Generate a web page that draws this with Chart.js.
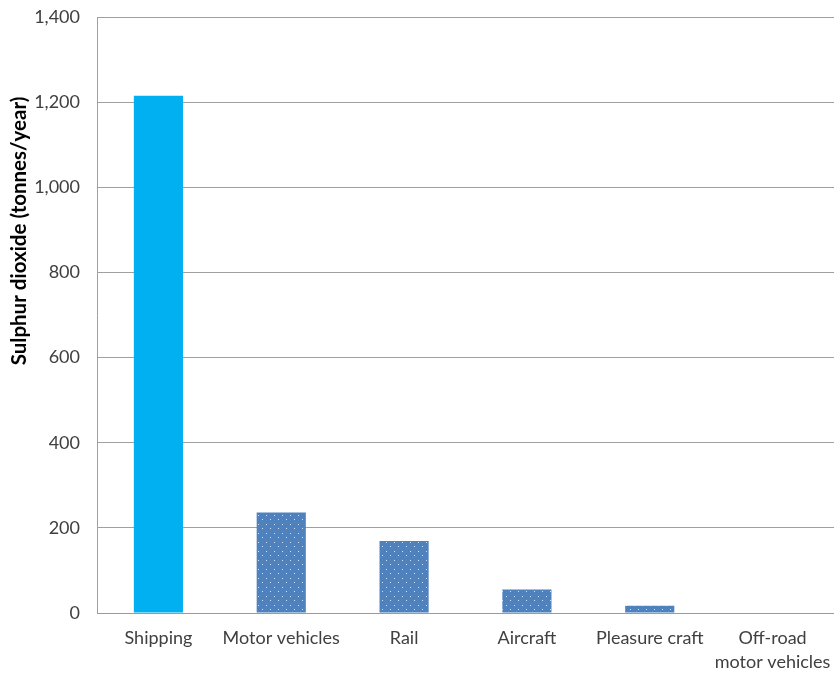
<!DOCTYPE html>
<html><head><meta charset="utf-8">
<script src="https://cdn.jsdelivr.net/npm/chart.js@4.4.0/dist/chart.umd.min.js"></script>
<style>html,body{margin:0;padding:0;background:#fff}#wrap{width:834px;height:675px;position:relative}</style>
</head><body><div id="wrap"><canvas id="c"></canvas></div>
<script>
const categories = ["Shipping", "Motor vehicles", "Rail", "Aircraft", "Pleasure craft", ["Off-road", "motor vehicles"]];
const values = [1215, 236, 169, 55, 17, 0];
const yTicks = [0, 200, 400, 600, 800, 1000, 1200, 1400];
const yTitle = "Sulphur dioxide (tonnes/year)";

function dotPattern() {
  const t = document.createElement('canvas');
  t.width = 8; t.height = 9;
  const g = t.getContext('2d');
  g.fillStyle = '#4F81BD'; g.fillRect(0, 0, 8, 9);
  g.fillStyle = 'rgba(220,235,255,0.9)';
  g.fillRect(2, 2, 1, 1);
  g.fillRect(6, 6, 1, 1);
  return document.getElementById('c').getContext('2d').createPattern(t, 'repeat');
}
const pat = dotPattern();
const colors = values.map((v, i) => i === 0 ? '#00B0F0' : pat);

const FONT = "Lato, 'Open Sans', sans-serif";
Chart.defaults.font.family = FONT;
Chart.defaults.color = '#404040';

const titlePlugin = {
  id: 'ytitle',
  afterDraw(chart) {
    const ctx = chart.ctx;
    ctx.save();
    ctx.translate(19, 231);
    ctx.rotate(-Math.PI / 2);
    ctx.font = "bold 20.5px " + FONT;
    ctx.fillStyle = '#000';
    ctx.textAlign = 'center';
    ctx.textBaseline = 'middle';
    ctx.fillText(yTitle, 0, 0);
    ctx.restore();
  }
};

new Chart(document.getElementById('c'), {
  type: 'bar',
  data: { labels: categories, datasets: [{ data: values, backgroundColor: colors, borderWidth: 0, categoryPercentage: 0.8, barPercentage: 0.5 }] },
  options: {
    responsive: true, maintainAspectRatio: false, animation: false,
    layout: { padding: { top: 17, right: 0, bottom: 0, left: 0 } },
    plugins: { legend: { display: false }, tooltip: { enabled: false } },
    scales: {
      x: {
        afterFit: ax => { ax.height = 62; ax.paddingLeft = 0; ax.paddingRight = 0; },
        grid: { display: false, drawTicks: false },
        border: { display: true, color: '#9a9a9a', width: 1 },
        ticks: { font: { size: 18, lineHeight: 1.35 }, color: '#404040', padding: 13, maxRotation: 0, autoSkip: false }
      },
      y: {
        min: 0, max: 1400,
        afterFit: ax => { ax.width = 97; ax.paddingTop = 0; ax.paddingBottom = 0; },
        afterBuildTicks: ax => { ax.ticks = yTicks.map(v => ({ value: v })); },
        grid: { color: '#a0a0a0', lineWidth: 1, drawTicks: false },
        border: { display: true, color: '#a0a0a0', width: 1 },
        ticks: { font: { size: 18 }, color: '#404040', padding: 17, callback: v => v.toLocaleString('en-US') }
      }
    }
  },
  plugins: [titlePlugin]
});
</script></body></html>
